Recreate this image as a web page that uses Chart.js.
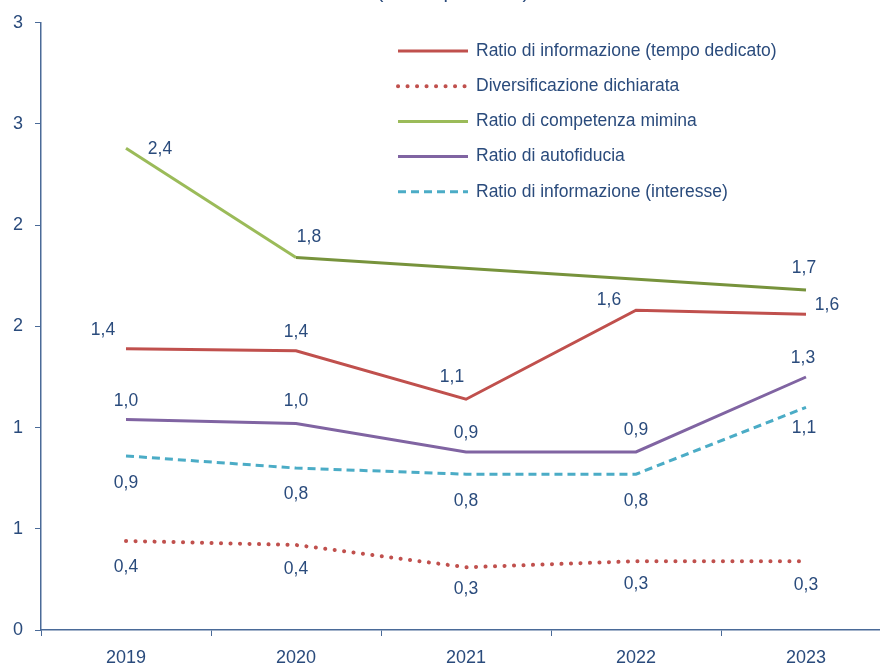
<!DOCTYPE html>
<html>
<head>
<meta charset="utf-8">
<script src="https://cdn.jsdelivr.net/npm/chart.js@4.4.1/dist/chart.umd.min.js"></script>
<style>
  html, body { margin: 0; padding: 0; background: #fff; overflow: hidden; }
  #wrap { width: 892px; height: 664px; }
</style>
</head>
<body>
<div id="wrap"><canvas id="chart" width="892" height="664"></canvas></div>
<script>
// dati
const anni = ['2019', '2020', '2021', '2022', '2023'];
const infoTempo      = [1.39, 1.38, 1.14, 1.58, 1.56];
const diversificaz   = [0.44, 0.42, 0.31, 0.34, 0.34];
const competenza     = [2.38, 1.84, null, null, 1.68];
const autofiducia    = [1.04, 1.02, 0.88, 0.88, 1.25];
const infoInteresse  = [0.86, 0.80, 0.77, 0.77, 1.10];
const titolo = '(media per anno)';

const TXT = '#2A4B7C';
const AXIS = '#4A6A98';
const FONT = "'Liberation Sans', Arial, sans-serif";

// spostamento delle etichette rispetto al punto (dx, dy)
const offInfoTempo  = [[-23, -18], [0, -19], [-14, -22], [-27, -10], [21, -9]];
const offDiversif   = [[0, 26], [0, 24], [0, 22], [0, 23], [0, 24]];
const offCompetenza = [[34, 1], [13, -20], null, null, [-2, -22]];
const offAutofid    = [[0, -18], [0, -22], [0, -19], [0, -22], [-3, -19]];
const offInteresse  = [[0, 27], [0, 26], [0, 27], [0, 27], [-2, 21]];

const fmt = v => v.toFixed(1).replace('.', ',');

const valueLabels = {
    id: 'valueLabels',
    afterDatasetsDraw(chart) {
        const ctx = chart.ctx;
        ctx.save();
        ctx.font = '17.5px ' + FONT;
        ctx.fillStyle = TXT;
        ctx.textAlign = 'center';
        ctx.textBaseline = 'middle';
        chart.data.datasets.forEach((ds, i) => {
            const meta = chart.getDatasetMeta(i);
            meta.data.forEach((pt, j) => {
                const v = ds.data[j];
                if (v == null) return;
                const o = ds.labelOffsets[j] || [0, 0];
                ctx.fillText(fmt(v), pt.x + o[0], pt.y + o[1]);
            });
        });
        ctx.restore();
    }
};

const inlineLegend = {
    id: 'inlineLegend',
    afterDraw(chart) {
        const ctx = chart.ctx;
        ctx.save();
        ctx.font = '17.5px ' + FONT;
        ctx.textBaseline = 'middle';
        chart.data.datasets.forEach((ds, i) => {
            const y = 51 + i * 35.2;
            ctx.beginPath();
            ctx.strokeStyle = ds.legendColor || ds.borderColor;
            ctx.lineWidth = ds.borderWidth;
            ctx.lineCap = ds.borderCapStyle || 'butt';
            ctx.setLineDash(ds.borderDash || []);
            ctx.moveTo(398, y);
            ctx.lineTo(468, y);
            ctx.stroke();
            ctx.setLineDash([]);
            ctx.fillStyle = TXT;
            ctx.fillText(ds.label, 476, y);
        });
        // titolo tagliato in alto
        ctx.font = '20px ' + FONT;
        ctx.textAlign = 'center';
        ctx.textBaseline = 'alphabetic';
        ctx.fillText(titolo, 453, -2);
        ctx.restore();
    }
};

new Chart(document.getElementById('chart'), {
    type: 'line',
    data: {
        labels: anni,
        datasets: [
            { label: 'Ratio di informazione (tempo dedicato)', data: infoTempo, borderColor: '#C0504D', borderWidth: 3, labelOffsets: offInfoTempo },
            { label: 'Diversificazione dichiarata', data: diversificaz, borderColor: '#C0504D', borderWidth: 4, borderDash: [0.1, 9.4], borderCapStyle: 'round', labelOffsets: offDiversif },
            { label: 'Ratio di competenza mimina', data: competenza, borderColor: '#9BBB59', legendColor: '#9BBB59', borderWidth: 3, spanGaps: true,
              segment: { borderColor: c => c.p0DataIndex === 0 ? '#9BBB59' : '#77933C' }, labelOffsets: offCompetenza },
            { label: 'Ratio di autofiducia', data: autofiducia, borderColor: '#8064A2', borderWidth: 3, labelOffsets: offAutofid },
            { label: 'Ratio di informazione (interesse)', data: infoInteresse, borderColor: '#4BACC6', borderWidth: 3, borderDash: [8, 5], labelOffsets: offInteresse },
        ],
    },
    options: {
        responsive: false,
        animation: false,
        devicePixelRatio: 1,
        layout: { padding: { top: 22, right: 1, left: 0, bottom: 0 } },
        elements: { point: { radius: 0, hoverRadius: 0 }, line: { tension: 0 } },
        plugins: { legend: { display: false }, tooltip: { enabled: false } },
        scales: {
            x: {
                offset: true,
                border: { color: AXIS, width: 1.5 },
                grid: { offset: true, drawOnChartArea: false, tickLength: 6, color: AXIS, tickColor: AXIS },
                ticks: { color: TXT, font: { family: FONT, size: 18 }, padding: 11 },
                afterFit: s => { s.height = 34; },
            },
            y: {
                min: 0, max: 3,
                border: { color: AXIS, width: 1.5 },
                grid: { drawOnChartArea: false, tickLength: 6, color: AXIS, tickColor: AXIS },
                ticks: { stepSize: 0.5, color: TXT, font: { family: FONT, size: 18 }, padding: 12,
                         callback: v => String(Math.round(v)) },
                afterFit: s => { s.width = 41; },
            },
        },
    },
    plugins: [valueLabels, inlineLegend],
});
</script>
</body>
</html>
